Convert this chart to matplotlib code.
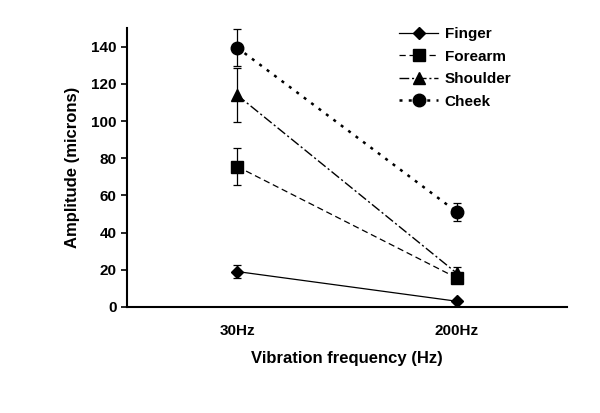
import matplotlib
matplotlib.use('Agg')
import matplotlib.pyplot as plt

plt.rcParams['font.family'] = ['Liberation Sans', 'DejaVu Sans']
plt.rcParams['font.weight'] = 'bold'

freqs = ['30Hz', '200Hz']
series = ['Finger', 'Forearm', 'Shoulder', 'Cheek']
finger = [19, 3]
finger_err = [3.5, 0]
forearm = [75.5, 15.5]
forearm_err = [10, 0]
shoulder = [114, 18]
shoulder_err = [14.5, 3.5]
cheek = [139.5, 51]
cheek_err = [10, 5]

values = [finger, forearm, shoulder, cheek]
errors = [finger_err, forearm_err, shoulder_err, cheek_err]
markers = ['D', 's', '^', 'o']
msizes = [6, 9, 8, 9]
styles = ['-', (0, (5, 3)), (0, (7, 2, 1.5, 2)), (0, (1.2, 2.5))]
widths = [0.9, 0.9, 1.0, 1.8]

fig = plt.figure(figsize=(6, 4.13), dpi=100)
ax = fig.add_axes([0.212, 0.257, 0.733, 0.675])

x = list(range(len(freqs)))
handles = []
for name, v, e, m, ms, ls, lw in zip(series, values, errors, markers, msizes, styles, widths):
    c = ax.errorbar(x, v, yerr=e, color='black', marker=m, markersize=ms,
                    linestyle=ls, linewidth=lw, elinewidth=0.9, capsize=3,
                    capthick=0.9, label=name)
    handles.append(c[0])

ax.set_xlim(-0.5, 1.5)
ax.set_ylim(0, 150)
ax.set_yticks(range(0, 141, 20))
ax.set_xticks(x)
ax.set_xticklabels(freqs)
ax.tick_params(axis='x', length=0, pad=12, labelsize=11)
ax.tick_params(axis='y', direction='out', length=4, width=1.2, labelsize=11)
for s in ['top', 'right']:
    ax.spines[s].set_visible(False)
ax.spines['left'].set_linewidth(1.5)
ax.spines['bottom'].set_linewidth(1.5)

ax.set_xlabel('Vibration frequency (Hz)', fontsize=12, fontweight='bold', labelpad=10)
ax.set_ylabel('Amplitude (microns)', fontsize=12, fontweight='bold', labelpad=8)

ax.legend(handles, series, loc='upper left', bbox_to_anchor=(0.586, 1.052), frameon=False,
          fontsize=11, handlelength=2.6, labelspacing=0.55, handletextpad=0.4)

fig.savefig('out.png', dpi=100)
